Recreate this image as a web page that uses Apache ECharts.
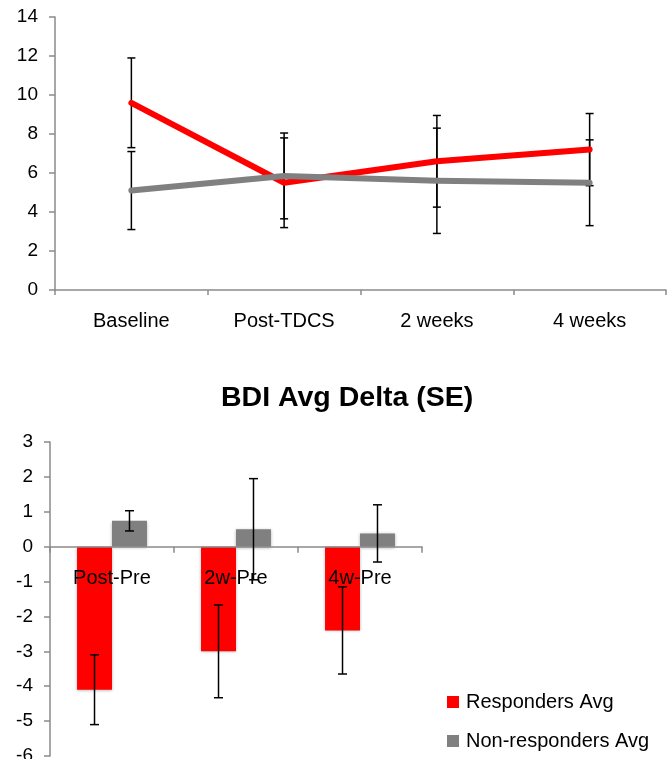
<!DOCTYPE html>
<html>
<head>
<meta charset="utf-8">
<script src="https://cdn.jsdelivr.net/npm/echarts@6/dist/echarts.min.js"></script>
<style>
html,body{margin:0;padding:0;background:#fff;}
#c{width:670px;height:759px;}
</style>
</head>
<body>
<div id="c"></div>
<script>
// ---- Top chart data ----
const timeCats = ['Baseline', 'Post-TDCS', '2 weeks', '4 weeks'];
const respMean = [9.6, 5.5, 6.6, 7.2];
const respSE = [2.3, 2.3, 2.35, 1.85];
const nonMean = [5.1, 5.85, 5.6, 5.5];
const nonSE = [2.0, 2.2, 2.7, 2.2];

// ---- Bottom chart data ----
const deltaCats = ['Post-Pre', '2w-Pre', '4w-Pre'];
const respDelta = [-4.1, -3.0, -2.4];
const respDeltaSE = [1.0, 1.33, 1.25];
const nonDelta = [0.74, 0.5, 0.38];
const nonDeltaSE = [0.29, 1.45, 0.82];

const topTicks = {min: 0, max: 14, interval: 2};
const botTicks = {min: -6, max: 3, interval: 1};

const FONT = '"Liberation Sans", Arial, Helvetica, sans-serif';
const AXIS_COLOR = '#8a8a8a';

function errData(mean, se) {
  return mean.map((m, i) => [i, m - se[i], m + se[i]]);
}

function errRender(offsetFrac, capHalf) {
  return function (params, api) {
    const idx = api.value(0);
    const lo = api.coord([idx, api.value(1)]);
    const hi = api.coord([idx, api.value(2)]);
    const bw = api.size([1, 0])[0];
    const x = lo[0] + offsetFrac * bw;
    const style = {stroke: '#000', lineWidth: 1.5};
    return {
      type: 'group',
      children: [
        {type: 'line', shape: {x1: x, y1: lo[1], x2: x, y2: hi[1]}, style: style},
        {type: 'line', shape: {x1: x - capHalf, y1: lo[1], x2: x + capHalf, y2: lo[1]}, style: style},
        {type: 'line', shape: {x1: x - capHalf, y1: hi[1], x2: x + capHalf, y2: hi[1]}, style: style}
      ]
    };
  };
}

// category labels that sit just under the zero line of the delta chart
function zeroLabelRender(params, api) {
  const idx = api.value(0);
  const p = api.coord([idx, 0]);
  return {
    type: 'text',
    x: p[0],
    y: p[1] + 22,
    style: {
      text: deltaCats[idx],
      fill: '#000',
      font: '20px ' + FONT,
      align: 'center',
      verticalAlign: 'top'
    }
  };
}

const chart = echarts.init(document.getElementById('c'), null, {renderer: 'canvas'});

const option = {
  backgroundColor: '#fff',
  animation: false,
  textStyle: {fontFamily: FONT},
  title: {
    text: 'BDI Avg Delta (SE)',
    left: 221,
    top: 384,
    padding: 0,
    textStyle: {fontFamily: FONT, fontSize: 28.5, fontWeight: 'bold', color: '#000'}
  },
  legend: {
    data: ['Responders Avg', 'Non-responders Avg'],
    orient: 'vertical',
    left: 447,
    top: 692,
    itemWidth: 12,
    itemHeight: 12,
    itemGap: 19,
    icon: 'rect',
    padding: 0,
    textStyle: {fontFamily: FONT, fontSize: 20, color: '#000', padding: [0, 0, 0, 2]}
  },
  grid: [
    {left: 55, right: 4, top: 17, height: 273, containLabel: false, outerBoundsMode: 'none'},
    {left: 50, width: 372, top: 442, height: 314, containLabel: false, outerBoundsMode: 'none'}
  ],
  xAxis: [
    {
      gridIndex: 0, type: 'category', data: timeCats, boundaryGap: true,
      axisLine: {lineStyle: {color: AXIS_COLOR, width: 1.5}},
      axisTick: {show: true, length: 5, alignWithLabel: false, lineStyle: {color: AXIS_COLOR, width: 1.5}},
      axisLabel: {margin: 21, color: '#000', fontFamily: FONT, fontSize: 20},
      splitLine: {show: false}
    },
    {
      gridIndex: 1, type: 'category', data: deltaCats, boundaryGap: true, z: 10,
      axisLine: {onZero: true, lineStyle: {color: AXIS_COLOR, width: 1.5}},
      axisTick: {show: true, length: 6, lineStyle: {color: AXIS_COLOR, width: 1.5}},
      axisLabel: {show: false},
      splitLine: {show: false}
    }
  ],
  yAxis: [
    {
      gridIndex: 0, type: 'value', min: topTicks.min, max: topTicks.max, interval: topTicks.interval,
      axisLine: {show: true, lineStyle: {color: AXIS_COLOR, width: 1.5}},
      axisTick: {show: true, length: 6, lineStyle: {color: AXIS_COLOR, width: 1.5}},
      axisLabel: {margin: 17, color: '#000', fontFamily: FONT, fontSize: 19},
      splitLine: {show: false}
    },
    {
      gridIndex: 1, type: 'value', min: botTicks.min, max: botTicks.max, interval: botTicks.interval,
      axisLine: {show: true, lineStyle: {color: AXIS_COLOR, width: 1.5}},
      axisTick: {show: true, length: 6, lineStyle: {color: AXIS_COLOR, width: 1.5}},
      axisLabel: {margin: 17, color: '#000', fontFamily: FONT, fontSize: 19},
      splitLine: {show: false}
    }
  ],
  series: [
    {
      type: 'custom', name: 'respErr', xAxisIndex: 0, yAxisIndex: 0, z: 1,
      renderItem: errRender(0, 4), data: errData(respMean, respSE), silent: true
    },
    {
      type: 'custom', name: 'nonErr', xAxisIndex: 0, yAxisIndex: 0, z: 1,
      renderItem: errRender(0, 4), data: errData(nonMean, nonSE), silent: true
    },
    {
      type: 'line', name: 'Responders', xAxisIndex: 0, yAxisIndex: 0, z: 2,
      data: respMean, showSymbol: false, symbol: 'none',
      lineStyle: {color: '#ff0000', width: 6, cap: 'round', join: 'round'}
    },
    {
      type: 'line', name: 'Non-responders', xAxisIndex: 0, yAxisIndex: 0, z: 3,
      data: nonMean, showSymbol: false, symbol: 'none',
      lineStyle: {color: '#808080', width: 6, cap: 'round', join: 'round'}
    },
    {
      type: 'bar', name: 'Responders Avg', xAxisIndex: 1, yAxisIndex: 1,
      data: respDelta, barWidth: '28.2%', barGap: '0%',
      itemStyle: {color: '#ff0000', shadowColor: 'rgba(0,0,0,0.3)', shadowBlur: 3, shadowOffsetY: 1}
    },
    {
      type: 'bar', name: 'Non-responders Avg', xAxisIndex: 1, yAxisIndex: 1,
      data: nonDelta, barWidth: '28.2%', barGap: '0%',
      itemStyle: {color: '#808080', shadowColor: 'rgba(0,0,0,0.3)', shadowBlur: 3, shadowOffsetY: 1}
    },
    {
      type: 'custom', name: 'catLabels', xAxisIndex: 1, yAxisIndex: 1, z: 12,
      renderItem: zeroLabelRender, data: deltaCats.map((c, i) => [i, 0]), silent: true
    },
    {
      type: 'custom', name: 'respDeltaErr', xAxisIndex: 1, yAxisIndex: 1, z: 13,
      renderItem: errRender(-0.141, 4.5), data: errData(respDelta, respDeltaSE), silent: true
    },
    {
      type: 'custom', name: 'nonDeltaErr', xAxisIndex: 1, yAxisIndex: 1, z: 13,
      renderItem: errRender(0.141, 4.5), data: errData(nonDelta, nonDeltaSE), silent: true
    }
  ]
};
chart.setOption(option);
</script>
</body>
</html>
